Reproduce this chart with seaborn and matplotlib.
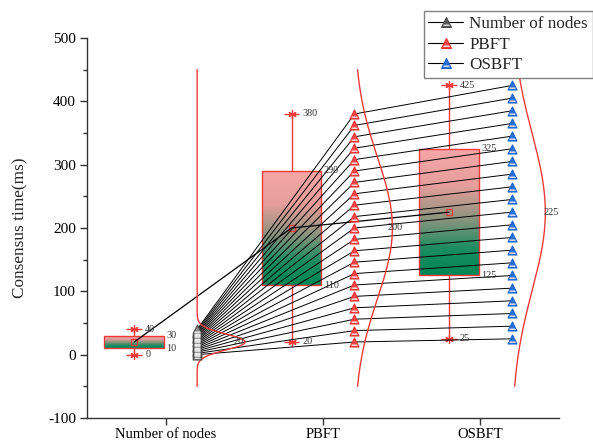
import numpy as np
import pandas as pd
import matplotlib
matplotlib.use("Agg")
import matplotlib.pyplot as plt
from matplotlib.colors import LinearSegmentedColormap
from matplotlib.lines import Line2D
from matplotlib.path import Path
from matplotlib.legend_handler import HandlerTuple
from matplotlib.ticker import MultipleLocator
import seaborn as sns

# ---------------- data ----------------
categories = ["Number of nodes", "PBFT", "OSBFT"]
nodes_values = [0, 2, 4, 6, 8, 10, 12, 14, 16, 18, 20, 22, 24, 26, 28, 30, 32, 34, 36, 38, 40]
pbft_values = [20, 38, 56, 74, 92, 110, 128, 146, 164, 182, 200, 218, 236, 254, 272, 290,
               308, 326, 344, 362, 380]
osbft_values = [25, 45, 65, 85, 105, 125, 145, 165, 185, 205, 225, 245, 265, 285, 305, 325,
                345, 365, 385, 405, 425]
y_ticks = [-100, 0, 100, 200, 300, 400, 500]

# ---------------- style ----------------
box_offset = -0.2
point_offset = 0.2
box_width = 0.38
cap_half = 0.05
curve_widths = [0.306, 0.241, 0.213]
curve_label_dx = [-0.04, 0.015, 0.04]
curve_span = (-50, 450)
red = "#F03A3A"
marker_faces = ["#8C8C8C", "#F04848", "#2A72D8"]
marker_edges = ["#4A4A4A", "#E83030", "#1F62C8"]
legend_faces = ["#5A5A5A", "#F04848", "#2A72D8"]
text_grey = "#333333"

sns.set_style("ticks")
plt.rcParams["font.family"] = ["Liberation Serif", "DejaVu Serif"]

fig = plt.figure(figsize=(5.93, 4.41), dpi=100)
ax = fig.add_axes([87 / 593, 1 - 418 / 441, 472 / 593, 380 / 441])

series = [np.asarray(nodes_values), np.asarray(pbft_values), np.asarray(osbft_values)]
positions = np.arange(1, len(categories) + 1)

# ---------------- boxes ----------------
box_df = pd.DataFrame({
    "pos": np.concatenate([np.full(len(s), p + box_offset) for p, s in zip(positions, series)]),
    "value": np.concatenate(series),
})
sns.boxplot(data=box_df, x="pos", y="value", orient="x", native_scale=True,
            width=box_width, whis=(0, 100), showcaps=False, showfliers=False,
            showmeans=True,
            meanprops=dict(marker="s", markerfacecolor="none", markeredgecolor=red,
                           markersize=4, markeredgewidth=0.9),
            medianprops=dict(visible=False),
            color="white", linecolor=red, linewidth=1, ax=ax)

box_cmap = LinearSegmentedColormap.from_list(
    "boxgrad",
    [(0.0, (0.965, 0.655, 0.655)), (0.3, (0.90, 0.62, 0.61)), (0.55, (0.56, 0.58, 0.50)),
     (0.8, (0.10, 0.55, 0.38)), (1.0, (0.0, 0.53, 0.34))])
grad = np.linspace(0, 1, 256).reshape(-1, 1)
for p in list(ax.patches):
    ext = p.get_path().get_extents()
    p.set_facecolor("none")
    p.set_zorder(2.5)
    im = ax.imshow(grad, cmap=box_cmap, extent=[ext.x0, ext.x1, ext.y0, ext.y1],
                   origin="upper", aspect="auto", zorder=1.9, interpolation="bilinear")
    im.set_clip_path(p)

# caps + value labels
for p, s in zip(positions, series):
    bx = p + box_offset
    mn, mx = s.min(), s.max()
    q1, q3 = np.percentile(s, [25, 75])
    ax.hlines([mn, mx], bx - cap_half, bx + cap_half, color=red, lw=1, zorder=2.6)
    ax.plot([bx, bx], [mn, mx], ls="none", marker=(6, 2, 0), ms=6, color=red,
            mew=0.9, zorder=2.6)
    for v in (mn, mx):
        ax.text(bx + cap_half + 0.02, v, f"{v:g}", fontsize=7.3, color=text_grey,
                ha="left", va="center", zorder=6)
    for v in (q1, q3):
        ax.text(bx + box_width / 2 + 0.015, v, f"{v:g}", fontsize=7.3, color=text_grey,
                ha="left", va="center", zorder=6)

# ---------------- connecting lines ----------------
line_df = pd.DataFrame({
    "idx": np.concatenate([np.arange(len(s)) for s in series]),
    "xpos": np.concatenate([np.full(len(s), p + point_offset) for p, s in zip(positions, series)]),
    "value": np.concatenate(series),
})
sns.lineplot(data=line_df, x="xpos", y="value", units="idx", estimator=None,
             color="black", lw=0.7, sort=True, legend=False, ax=ax, zorder=3)

means = [s.mean() for s in series]
sns.lineplot(x=positions + box_offset, y=means, color="black", lw=0.9,
             estimator=None, sort=False, ax=ax, zorder=3)

# ---------------- distribution curves ----------------
yy = np.linspace(curve_span[0], curve_span[1], 500)
for p, s, w, dx in zip(positions, series, curve_widths, curve_label_dx):
    m, sd = s.mean(), s.std(ddof=1)
    xx = p + point_offset + w * np.exp(-0.5 * ((yy - m) / sd) ** 2)
    sns.lineplot(x=xx, y=yy, sort=False, estimator=None, color=red, lw=1,
                 ax=ax, zorder=4)
    ax.text(p + point_offset + w + dx, m, f"{m:g}", fontsize=7.3, color=text_grey,
            ha="center", va="center", zorder=6)

# ---------------- markers ----------------
band_verts = [(0, 1), (-0.58, -0.46), (0.58, -0.46), (0.72, -0.72), (-0.72, -0.72), (0, 0)]
band_codes = [Path.MOVETO, Path.MOVETO, Path.LINETO, Path.LINETO, Path.LINETO, Path.CLOSEPOLY]
band_marker = Path(band_verts, band_codes)

for p, s, fc, ec in zip(positions, series, marker_faces, marker_edges):
    xs = np.full(len(s), p + point_offset)
    sns.scatterplot(x=xs, y=s, marker="^", s=42, color=fc, edgecolor=ec,
                    linewidth=0.8, ax=ax, zorder=5, legend=False)
    ax.scatter(xs, s, marker=band_marker, s=42, color="white", linewidths=0, zorder=5.1)

# ---------------- axes ----------------
ax.set_xlim(0.5, 3.5)
ax.set_ylim(-100, 500)
ax.set_xticks(positions)
ax.set_xticklabels(categories, fontsize=10.5)
ax.set_yticks(y_ticks)
ax.set_yticklabels([str(t) for t in y_ticks], fontsize=11)
ax.yaxis.set_minor_locator(MultipleLocator(50))
ax.tick_params(axis="both", which="major", direction="out", length=5, width=1,
               color="#333333", labelcolor="black", pad=3)
ax.tick_params(axis="x", which="major", pad=2.5)
ax.tick_params(axis="y", which="minor", direction="out", length=3, width=1, color="#333333")
ax.tick_params(axis="x", which="minor", length=0)
ax.set_xlabel("")
ax.set_ylabel("Consensus time(ms)", fontsize=12.4)
ax.yaxis.set_label_coords(-0.125, 0.5)
for side in ("top", "right"):
    ax.spines[side].set_visible(False)
for side in ("left", "bottom"):
    ax.spines[side].set_color("#333333")
    ax.spines[side].set_linewidth(1)

# ---------------- legend ----------------
handles = []
for fc, ec in zip(legend_faces, marker_edges):
    ln = Line2D([], [], color="black", lw=0.8, marker="^", ms=6.5, mfc=fc, mec=ec, mew=0.8)
    bd = Line2D([], [], ls="none", marker=band_marker, ms=6.5, mfc="white", mec="none", mew=0)
    handles.append((ln, bd))
leg = fig.legend(handles, categories, loc="upper right",
                 bbox_to_anchor=(0.9995, 1 - 11 / 441), bbox_transform=fig.transFigure,
                 handler_map={tuple: HandlerTuple(ndivide=1, pad=0)},
                 fontsize=12.3, frameon=True, fancybox=False, framealpha=1,
                 borderpad=0.28, labelspacing=0.28, handlelength=2.05, handletextpad=0.35,
                 borderaxespad=0, numpoints=1)
leg.get_frame().set_edgecolor("#808080")
leg.get_frame().set_linewidth(1)

fig.savefig("out.png", dpi=100)
